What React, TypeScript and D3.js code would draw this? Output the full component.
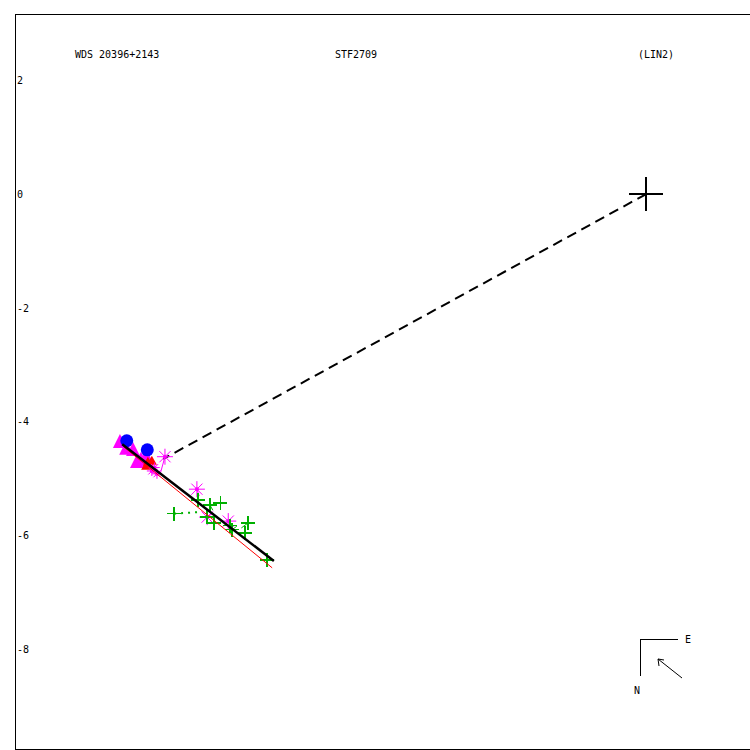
import React from "react";
import * as d3 from "d3";

// plot units (arcsec-ish offsets), origin = primary
const yTicks = [2, 0, -2, -4, -6, -8];
const titles = ["WDS 20396+2143", "STF2709", "(LIN2)"];

const primary: [number, number] = [0, 0];
const dashedEnd: [number, number] = [-8.47, -4.65];
const orbitFit: [number, number][] = [[-9.19, -4.39], [-6.53, -6.44]];
const redFit: [number, number][] = [[-9.16, -4.44], [-6.56, -6.56]];

const bluePts: [number, number][] = [[-9.11, -4.33], [-8.75, -4.49]];
const triPts: [number, number][] = [
  [-9.23, -4.37], [-9.12, -4.49], [-9.0, -4.51], [-8.86, -4.68], [-8.77, -4.63], [-8.93, -4.72],
];
const redPts: [number, number][] = [[-8.74, -4.7], [-8.7, -4.75], [-8.77, -4.77], [-8.67, -4.68]];
const starPts: [number, number][] = [
  [-8.44, -4.61], [-7.88, -5.18], [-7.7, -5.67], [-7.33, -5.74], [-8.67, -4.86], [-8.58, -4.91], [-8.62, -4.8],
];
const plusPts: [number, number][] = [
  [-8.28, -5.61], [-7.86, -5.37], [-7.65, -5.46], [-7.47, -5.42], [-7.7, -5.67], [-7.58, -5.77],
  [-7.26, -5.89], [-7.04, -5.95], [-6.98, -5.77], [-6.65, -6.42], [-7.3, -5.82],
];
// observed -> predicted residual segments
const starResid: [number, number][][] = [
  [[-8.44, -4.61], [-8.52, -4.9]], [[-7.88, -5.18], [-7.84, -5.3]], [[-7.7, -5.67], [-7.6, -5.6]],
];
const plusResid: [number, number][][] = [
  [[-7.65, -5.46], [-7.6, -5.55]], [[-7.26, -5.89], [-7.18, -5.83]], [[-6.98, -5.77], [-7.1, -5.86]],
];
const dottedResid: [number, number][] = [[-8.28, -5.61], [-7.82, -5.58]];

export default function App() {
  const W = 750, H = 750;
  const x = d3.scaleLinear().domain([-11.07, 1.82]).range([15, 750]);
  const y = d3.scaleLinear().domain([3.16, -9.74]).range([14, 749]);
  const line = d3.line<[number, number]>().x((d) => x(d[0])).y((d) => y(d[1]));
  const font = "DejaVu Sans Mono, monospace";
  const green = "#00b000";

  const plus = (p: [number, number], s: number, color: string, w: number, key: any) => (
    <g key={key} stroke={color} strokeWidth={w} shapeRendering="crispEdges">
      <line x1={x(p[0]) - s} x2={x(p[0]) + s} y1={y(p[1])} y2={y(p[1])} />
      <line x1={x(p[0])} x2={x(p[0])} y1={y(p[1]) - s} y2={y(p[1]) + s} />
    </g>
  );
  const star = (p: [number, number], s: number, key: any) => {
    const cx = x(p[0]), cy = y(p[1]);
    const d = s * 0.7;
    return (
      <g key={key} stroke="#ff00ff" strokeWidth={1}>
        <line x1={cx - s} x2={cx + s} y1={cy} y2={cy} />
        <line x1={cx} x2={cx} y1={cy - s} y2={cy + s} />
        <line x1={cx - d} x2={cx + d} y1={cy - d} y2={cy + d} />
        <line x1={cx - d} x2={cx + d} y1={cy + d} y2={cy - d} />
        <circle cx={cx} cy={cy} r={1.5} fill="#ff00ff" />
      </g>
    );
  };

  return (
    <svg width={W} height={H} style={{ position: "absolute", left: 0, top: 0, background: "#fff" }}>
      <rect x={15} y={14} width={736} height={735} fill="none" stroke="#000" strokeWidth={1} shapeRendering="crispEdges" />

      {titles.map((t, i) => (
        <text key={t} x={[75, 335, 638][i]} y={58} fontFamily={font} fontSize={10} fill="#000">{t}</text>
      ))}
      {yTicks.map((v) => (
        <text key={v} x={17} y={y(v)} dy="0.35em" fontFamily={font} fontSize={10} fill="#000">{v}</text>
      ))}

      {/* primary + separation line */}
      {plus(primary, 17, "#000", 2, "prim")}
      <path d={line([primary, dashedEnd])!} stroke="#000" strokeWidth={2} strokeDasharray="10,6" fill="none" />

      {/* residual lines */}
      {starResid.map((s, i) => <path key={"sr" + i} d={line(s)!} stroke="#ff00ff" strokeWidth={1} fill="none" />)}
      {plusResid.map((s, i) => <path key={"pr" + i} d={line(s)!} stroke={green} strokeWidth={1} fill="none" />)}
      <path d={line(dottedResid)!} stroke={green} strokeWidth={2} strokeDasharray="2,5" fill="none" />

      {/* markers */}
      {triPts.map((p, i) => (
        <path key={"t" + i} d={`M${x(p[0])},${y(p[1]) - 9}L${x(p[0]) + 7},${y(p[1]) + 5}L${x(p[0]) - 7},${y(p[1]) + 5}Z`} fill="#ff00ff" />
      ))}
      {bluePts.map((p, i) => <circle key={"b" + i} cx={x(p[0])} cy={y(p[1])} r={6.5} fill="#0000ff" />)}
      {redPts.map((p, i) => (
        <path key={"r" + i} d={`M${x(p[0])},${y(p[1]) - 5}L${x(p[0]) + 5},${y(p[1]) + 4}L${x(p[0]) - 5},${y(p[1]) + 4}Z`} fill="#ff0000" />
      ))}
      {starPts.map((p, i) => star(p, i < 4 ? 8 : 5, "s" + i))}
      {plusPts.map((p, i) => plus(p, 7, green, 1.5, "p" + i))}

      {/* fitted orbit lines */}
      <path d={line(redFit)!} stroke="#ff0000" strokeWidth={1} fill="none" />
      <path d={line(orbitFit)!} stroke="#000" strokeWidth={2.5} fill="none" />

      {/* compass */}
      <g stroke="#000" strokeWidth={1} fill="none" shapeRendering="crispEdges">
        <path d="M678,639.5H640.5V676" />
      </g>
      <g stroke="#000" strokeWidth={1} fill="none">
        <path d="M682,678L658,659M658,659L664,660M658,659L659,666" />
      </g>
      <text x={685} y={643} fontFamily={font} fontSize={10} fill="#000">E</text>
      <text x={634} y={694} fontFamily={font} fontSize={10} fill="#000">N</text>
    </svg>
  );
}
